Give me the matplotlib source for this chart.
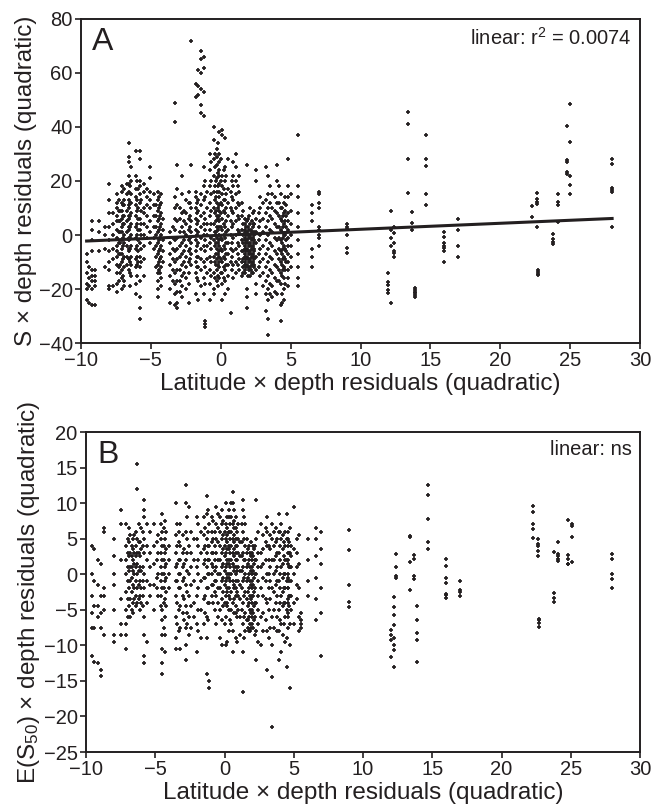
import matplotlib
matplotlib.use("Agg")
import matplotlib.pyplot as plt
import numpy as np

plt.rcParams['font.family'] = ['Liberation Sans', 'DejaVu Sans']
plt.rcParams['mathtext.default'] = 'regular'

INK = '#231f20'

# ---- Panel A: S x depth residuals, one list of y values per latitude column ----
a_col_x = [-9.6, -9.4, -9.2, -9.0, -8.7, -8.3, -8.0, -7.7, -7.4, -7.1, -6.9, -6.6, -6.4, -6.1,
           -5.8, -5.5, -5.1, -4.8, -4.5, -4.3, -4.1, -3.6, -3.3, -3.1, -2.8, -2.5, -2.3, -2.1,
           -1.8, -1.6, -1.4, -1.2, -1.1, -0.8, -0.5, -0.3, -0.1, 0.1, 0.3, 0.5, 0.7, 0.9, 1.1,
           1.3, 1.5, 1.7, 1.9, 2.1, 2.3, 2.5, 2.8, 3.2, 3.4, 3.7, 4.0, 4.3, 4.5, 4.8, 5.5, 6.5,
           7.0, 9.0, 12.0, 12.2, 12.4, 13.4, 13.7, 13.9, 14.7, 16.0, 17.0, 22.3, 22.6, 22.7,
           23.8, 24.1, 24.8, 25.0, 28.0]
a_col_y = [
    [-7, -10, -14, -18, -20, -24],
    [-12, -16, -19, -25],
    [5, 2, -2, -6, -13, -15, -17, -20, -26],
    [-13, -15, -17, -19, -26],
    [5, 1, -6],
    [3, 0, -5, -12],
    [19, 13, 8, 3, -2, -6, -10, -13, -19, -20],
    [8, 4, 0, -5, -9, -19],
    [15, 12, 10, 7, 5, 2, -1, -4, -6, -8, -11, -14, -18, -21],
    [18, 16, 12, 9, 6, 3, 1, -2, -5, -7, -10, -13, -16, -20],
    [17, 13, 11, 7, 4, 0, -3, -8, -12, -17, -19],
    [34, 29, 27, 22, 19, 13, 10, 6, 2, -2, -6, -9, -13],
    [25, 20, 15, 12, 8, 4, 0, -4, -8, -11, -15],
    [31, 22, 17, 14, 11, 7, 3, -1, -5, -9, -12, -18, -22],
    [31, 28, 20, 18, 15, 12, 6, 2, -3, -8, -12, -17, -23, -27, -31],
    [19, 16, 10, 8, 4, 0, -4, -9, -15],
    [25, 21, 16, 13, 10, 5, 1, -3],
    [15, 11, 7, 3, -1, -5],
    [16, 13, 9, 5, 1, -3, -7, -11, -14, -17, -20, -23],
    [15, 12, 8, 4, 0, -4, -8, -12, -16, -19],
    [6, 2, -2, -6, -10],
    [1, -3, -7, -11, -15, -20, -25],
    [49, 42, 14, 10, 6, 2, -2, -6, -10, -14, -18, -22, -26],
    [26, 17, 11, 5, -1, -5, -9, -13, -17, -21, -25, -27],
    [22, 15, 8, 3, -3, -7, -11, -15, -19, -23],
    [13, 8, 4, 0, -4, -8, -12, -16, -20],
    [16, 12, 6, 2, -2, -6, -10, -14, -18, -25],
    [72, 26, 10, 5, 1, -3, -7, -11],
    [56, 51, 16, 14, 10, 6, 2, -2, -6, -10, -14, -22],
    [61, 55, 52, 13, 9, 5, 1, -3, -8, -12, -17, -24],
    [68, 65, 60, 54, 48, 45, 15, 11, 7, 3, -1, -5, -9, -13, -19],
    [66, 62, 53, 44, 25, 18, 13, 8, 4, 0, -4, -10, -16, -22],
    [20, 14, 6, 2, -2, -6, -12, -18, -32, -33, -34],
    [30, 24, 18, 12, 7, 2, -3, -8, -13, -18, -24],
    [40, 35, 28, 22, 16, 10, 4, -2, -8, -14, -20, -22],
    [32, 29, 26, 21, 16, 12, 7, 3, -1, -5, -9, -13, -17],
    [38, 30, 27, 24, 19, 14, 9, 5, 0, -4, -8, -12, -16],
    [39, 37, 22, 18, 15, 11, 6, 2, -2, -6, -10, -14, -18, -24],
    [36, 25, 20, 13, 8, 3, -1, -5, -9, -13, -17, -22],
    [28, 17, 12, 7, 2, -3, -7, -11, -15, -20],
    [16, 10, 5, 0, -5, -10, -29],
    [27, 22, 18, 13, 8, 4, -1, -6, -11, -16],
    [30, 25, 20, 15, 10, 5, 0, -5, -10, -14],
    [22, 16, 11, 6, 1, -4, -9, -13],
    [12, 7, 2, -2, -6, -10, -15],
    [6, 2, -1, -4, -7, -10, -13],
    [26, 5, 1, -2, -5, -8, -11, -20, -23, -27],
    [10, 4, 0, -3, -6, -9, -12, -15],
    [8, 3, -1, -4, -7, -10, -14],
    [24, 20, 6, 1, -3, -8, -13, -18, -22],
    [14, 10, 5, 0, -5, -10, -15],
    [25, 13, 8, 3, -2, -7, -12, -17, -22, -28],
    [22, 15, 10, 5, 0, -5, -10, -15, -20, -24, -31, -37],
    [15, 10, 6, 1, -4, -9, -14, -19, -23],
    [26, 20, 12, 8, 3, -2, -7, -12, -17, -22],
    [15, 10, 6, 2, -2, -6, -10, -14, -18, -26, -32],
    [12, 8, 4, 0, -4, -8, -12, -16, -20, -24],
    [28, 18, 14, 8, 5, 2, -1, -4, -7, -10, -13, -16, -19],
    [37, 18, 14, 8, 3, -2, -7, -12, -16, -19],
    [11, 8, 5, -5, -8, -12],
    [16, 15, 12, 10, 3, 2, 0, -1, -4],
    [4.1, 3.1, 2.1, 0.0, -4.9, -6.8],
    [-14.2, -17.3, -18.5, -20.4, -21.4],
    [9.0, 1.9, -1.2, -4.2, -25.1],
    [3.1, 0.7, -3.0, -6.1, -6.6, -8.0],
    [45.4, 41.1, 28.3, 15.4],
    [8.6, 4.6, 1.9],
    [-19.8, -20.4, -21.0, -21.6, -22.2, -23.0],
    [37.2, 28.2, 25.4, 15.2, 11.1],
    [1.0, -0.9, -3.0, -4.0, -4.9, -6.1, -10.0],
    [5.9, 1.9, -4.0, -8.1],
    [10.8, 6.7],
    [15.4, 13.4, 12.2, 11.4, 3.1],
    [-12.8, -13.6, -14.5, -14.9],
    [0.2, -1.5, -2.5, -3.5],
    [15.0, 12.3, 11.1, 4.9],
    [40.2, 27.7, 26.9, 23.2, 22.5],
    [48.4, 34.4, 21.7, 18.4, 15.2],
    [28.3, 26.3, 17.3, 16.5, 15.9, 3.1],
]
# more columns inside the crowded band (x -7.5 to 5)
a_dense_x = [-7.3, -7.0, -6.7, -6.5, -6.0, -5.7, -5.3, -4.6, -4.4, -3.4, -2.9, -2.6, -2.2, -1.7,
             -1.0, -0.7, -0.4, -0.2, 0.0, 0.2, 0.4, 0.8, 1.2, 1.6, 1.8, 2.0, 2.2, 2.4, 2.7, 3.0,
             3.5, 3.9, 4.2, 4.4, 4.6, 5.0,
             1.75, 1.95, 2.15, 2.35, -0.35, -0.15, -4.35, -6.55, -5.95, -7.2, 4.45, 4.7]
a_dense_y = [
    [13, 9, 5, 1, -3, -7, -12, -17],
    [11, 7, 4, -1, -4, -9, -15],
    [19, 15, 9, 5, 1, -4, -8, -11],
    [18, 12, 7, 3, -1, -5, -10, -14, -19],
    [20, 13, 9, 4, 0, -4, -8, -11, -15],
    [13, 9, 4, 0, -5, -10],
    [17, 14, 11, 7, 3, -1],
    [11, 7, 3, 0, -4, -8, -12],
    [14, 10, 6, 2, -2, -6, -10, -13],
    [3, -1, -5, -9, -13, -17],
    [10, 6, 1, -4, -8, -13, -17, -21],
    [9, 5, 1, -2, -6, -10, -14],
    [12, 7, 3, -1, -5, -9],
    [12, 8, 4, 0, -4, -8, -12, -16],
    [16, 10, 4, 0, -4, -9, -14],
    [27, 20, 15, 9, 4, -1, -5, -10, -15],
    [30, 25, 18, 13, 8, 1, -4, -10, -16],
    [34, 23, 18, 10, 6, 2, -3, -7, -11, -15, -19],
    [28, 20, 12, 8, 3, -1, -5, -9, -14],
    [24, 17, 13, 9, 4, 0, -4, -8, -12, -16],
    [22, 15, 10, 5, 1, -3, -7, -11],
    [20, 14, 9, 3, -3, -8, -13],
    [18, 12, 7, 2, -3, -7, -11],
    [9, 4, 0, -3, -6, -9, -12, -14],
    [3, 0, -3, -6, -9, -12],
    [7, 2, -1, -4, -7, -10, -13],
    [5, 1, -2, -5, -8, -11, -14],
    [9, 4, 0, -3, -6, -9, -12],
    [8, 3, -2, -7, -12],
    [12, 6, 1, -4, -9, -14, -19],
    [18, 12, 7, 2, -3, -8, -13, -18, -22],
    [14, 9, 4, -1, -6, -11, -16, -21],
    [18, 12, 7, 3, -1, -5, -9, -13, -17],
    [10, 5, 1, -3, -7, -11, -15, -22, -25],
    [14, 9, 5, 0, -5, -9, -13, -18],
    [15, 9, 4, 0, -4, -8, -12],
    [4, 1, -2, -5, -8, -11, -14],
    [6, 3, 0, -3, -6, -9, -12, -15],
    [2, -1, -4, -7, -10, -13],
    [4, 1, -2, -5, -8, -11],
    [20, 14, 9, 5, 1, -3, -7, -11],
    [22, 16, 11, 7, 3, -2, -6, -10],
    [11, 7, 3, -1, -5, -9, -14],
    [16, 11, 7, 3, -1, -5, -9],
    [17, 10, 6, 2, -2, -6, -10],
    [9, 5, 1, -3, -7, -11, -14],
    [7, 3, -1, -5, -9, -13],
    [11, 7, 3, -2, -6, -10],
]
a_fit = [0.222, -0.1]  # slope, intercept of the linear fit

# ---- Panel B: E(S50) x depth residuals ----
b_col_x = [-9.6, -9.4, -9.1, -8.9, -8.7, -8.0, -7.5, -7.1, -6.8, -6.6, -6.3, -6.1, -5.8, -5.6,
           -5.1, -4.8, -4.5, -4.3, -3.5, -3.2, -2.8, -2.6, -2.0, -1.7, -1.3, -1.1, -0.6, -0.3,
           0.1, 0.3, 0.6, 0.9, 1.3, 1.5, 1.8, 2.0, 2.3, 2.6, 3.1, 3.4, 3.9, 4.1, 4.5, 4.7, 5.0,
           5.4, 6.0, 6.6, 7.0, 9.0, 12.0, 12.2, 12.4, 13.4, 13.7, 13.9, 14.7, 16.0, 17.0, 22.3,
           22.6, 22.7, 23.8, 24.1, 24.8, 25.1, 28.0]
b_col_y = [
    [4, 0, -3, -5.5, -7.5, -11.5],
    [3.5, -1, -4.5, -7.5, -12.3],
    [2, -1.5, -4.5, -6, -12.5],
    [1.5, -3, -5.5, -7.5, -13.5, -14.3],
    [6.5, 6, -2, -3, -5, -8.5],
    [5, 2.5, 0, -1.5, -5, -8.5, -9.5],
    [9, 7, 2, -3.5, -7, -8.5],
    [7, 4, 2, 0, -2.5, -5, -7, -8.5, -10.5],
    [5.5, 3, 1, -1, -3.5, -6],
    [5, 3.5, 2, 0.5, -1.5, -4, -5.5],
    [15.5, 12, 5, 3, 1.5, 0, -2, -4],
    [4.5, 2.5, 1, -1, -3, -5],
    [10.5, 9, 8, 5, 3, 0, -2, -6, -8.5, -11.5, -12.5],
    [7, 4, 2, -1, -4, -9.5],
    [7, 4, 1.5, -1.5, -5],
    [5.5, 3, 0, -3],
    [8.5, 6, 4, 2, 0, -2, -5, -6.5, -8.5, -10.5, -12.5, -14],
    [7.5, 5, 3, 1, -1, -3.5, -6, -8.5, -11],
    [10, 5.5, 3, 1, -1, -3, -6, -9, -10.5],
    [7, 4, 2, 0, -2, -4.5, -7.5, -10.5],
    [12.5, 10, 6, 2, -1.5, -4.5, -7.5, -10, -12],
    [9.5, 4, 0, -3, -6, -8.5],
    [8, 5, 1, -3, -7, -11],
    [6, 3, -1, -5, -9],
    [11, 8.5, 5, 3, 1, -2, -6, -9, -14],
    [7, 4, 2, 0, -4, -15, -16],
    [9.5, 7, 5, 3, 1, -1, -3, -7],
    [8, 6, 4, 2, 0, -2, -5, -9],
    [10, 7, 5, 3, 1, -1, -3, -6, -10],
    [9, 6, 4, 2, 0, -2, -5, -8],
    [11.5, 10, 7, 5, 3, 1.5, -1, -4, -8, -11],
    [6, 4, 2, 0.5, -2.5, -6, -9.5],
    [10.5, 9, 6, 3, 1, -1, -4, -7, -11, -16.5],
    [7, 4, 2, 0, -2.5, -5.5, -8],
    [4, 2, 0, -2, -4, -6, -8],
    [3, 1, -1, -3, -5, -7],
    [10.5, 5, 2, 0, -4, -8, -12],
    [7, 3, 1, -2, -6, -10],
    [8, 6, 4, 0, -4, -8, -13.5],
    [7, 5, 2, -2, -6, -10, -14.5, -21.5],
    [8.5, 6, 3, -1, -5, -8, -12],
    [7, 5, 1, -3, -7, -11],
    [8.5, 5, 2, -1, -5, -9, -13],
    [6.5, 3, 1, -3, -7, -10, -16],
    [9.5, 3.5, 0, -4, -7],
    [5.5, 1.5, -2, -6, -8],
    [5, 2, -1, -3],
    [6.5, 5, 2.5, -0.5, -3.5, -6.5],
    [6, 3.5, 1.5, -2, -5.5, -11.5],
    [6.2, 3.4, -1.5, -3.9, -4.6],
    [-7.9, -8.6, -9.3, -11.7],
    [-3.2, -4.6, -5.8, -7.2, -8.9, -10.0, -10.7, -13.0],
    [2.8, 1.0, -0.2, -0.5],
    [5.4, 5.2, 1.7, -2.2],
    [2.7, 2.2, -0.3, -0.6],
    [-4.4, -6.5, -8.2, -9.3, -12.4],
    [12.5, 11.2, 7.8, 4.5, 3.6],
    [2.2, 1.1, -0.5, -1.3, -2.8, -2.9, -3.4],
    [-0.9, -2.2, -2.5, -3.0],
    [9.6, 8.8, 7.0, 6.3, 5.1],
    [5.0, 4.3, 4.0, 3.2, 2.6],
    [-6.3, -6.5, -6.8, -7.4],
    [3.1, -2.6, -3.3, -3.9],
    [4.6, 2.8, 2.5, 2.1, 1.8],
    [7.6, 2.7, 2.2, 1.5, 1.4],
    [7.1, 6.8, 5.3, 1.7],
    [2.9, 2.1, 0.0, -0.7, -1.9],
]
b_dense_x = [-7.0, -6.9, -6.7, -6.4, -6.2, -5.9, -5.4, -4.9, -4.6, -4.4, -4.2, -3.3, -3.0, -2.7,
             -2.4, -2.2, -1.9, -1.5, -1.2, -0.9, -0.8, -0.5, -0.2, 0.0, 0.2, 0.4, 0.5, 0.7, 0.8,
             1.0, 1.1, 1.4, 1.6, 1.7, 1.9, 2.1, 2.2, 2.4, 2.8, 3.0, 3.3, 3.6, 3.8, 4.0, 4.2, 4.3,
             4.4, 4.6, 4.8, 5.2, 5.5,
             -0.1, 0.15, 0.35, 0.65, 0.85, 1.25, 1.85, 1.95, 2.05, -1.4, -0.7, -2.9, -3.4, -4.0,
             -6.5, -6.0, 3.2, 3.7, 4.55, 4.65]
b_dense_y = [
    [5, 3, 1, -1, -3.5, -6],
    [6.5, 4.5, 2.5, 0.5, -2, -4.5],
    [4, 2.5, 1, -0.5, -2.5, -5],
    [6, 4, 2.5, 1, -1, -3, -4.5],
    [7, 4.5, 3, 0.5, -1.5, -3.5],
    [6, 4, 1, -1, -3, -4.5],
    [6, 3, 1, -1.5, -3],
    [4.5, 2, -0.5, -2],
    [7, 5, 3, 1, -1, -3, -4.5],
    [6.5, 4, 2, 0, -2, -4, -7.5],
    [6, 3.5, 1.5, -0.5, -2.5, -4.5],
    [6, 4.5, 2, 0, -2, -5, -8],
    [5.5, 3, 1, -1, -3, -5.5],
    [8, 5, 3, 0.5, -2.5, -5.5, -7],
    [6, 3, 1, -1.5, -4.5, -7.5],
    [5, 2, -1, -4, -6],
    [7, 4, 2, 0, -2, -5, -8],
    [8, 5.5, 3.5, 1.5, -0.5, -3.5, -7],
    [9, 6, 4, 2, 0, -2, -4, -6.5],
    [8, 6, 4.5, 3, 1.5, 0, -1.5, -3],
    [7.5, 5, 3, 1, -1.5, -4],
    [8.5, 6.5, 4.5, 2, 0, -2, -4, -6],
    [9, 7, 5, 3, 1, -1, -3.5, -6.5, -10],
    [6, 4, 2.5, 0.5, -1.5, -4, -7],
    [8, 5.5, 3.5, 1.5, -0.5, -2.5, -4.5, -9.5],
    [7, 5, 3, 1, -1, -3.5, -6.5],
    [10, 8, 6, 4, 2, 0, -2.5, -5, -7],
    [9, 6.5, 4.5, 2.5, 0.5, -1.5, -3.5],
    [8, 5, 3, 1, -1, -3, -5.5, -9],
    [7, 5, 3, 1, -1, -3, -5],
    [4.5, 2.5, 0.5, -1.5, -3.5, -6, -8.5],
    [8, 5, 2, -0.5, -3, -6, -9],
    [5, 3, 1, -1, -3.5, -6.5],
    [3.5, 1.5, -0.5, -2.5, -4.5, -6.5, -7.5],
    [4.5, 2.5, 0.5, -1.5, -3.5, -5.5, -7.5],
    [3.5, 1.5, -0.5, -2.5, -4.5, -6.5],
    [4, 2, 0, -2, -4, -6, -8.5],
    [6, 3, 1, -1, -3, -5, -7, -9.5],
    [5.5, 3.5, 1.5, -0.5, -3, -5.5, -8],
    [6.5, 4.5, 2, -1, -3.5, -6.5],
    [5.5, 3.5, 1, -1, -3.5, -7.5],
    [6, 4, 2, 0, -2.5, -5, -7.5],
    [5, 3, 1, -1, -3, -6, -8],
    [6, 4, 2, 0, -2, -4, -6.5],
    [5.5, 3.5, 1.5, -0.5, -2.5, -4.5, -8.5],
    [4.5, 2.5, 0, -2, -4, -7],
    [6, 4, 2, 0, -2, -4, -6, -9.5],
    [5, 3, 1.5, -0.5, -2, -3.5, -5.5],
    [4, 2.5, 1, -1, -3, -5],
    [5, 3, 1, -1.5, -3.5],
    [-5.5, -6.5, -7, -7.5],
    [7.5, 5.5, 3.5, 1.5, -0.5, -2.5, -4.5],
    [6.5, 4.5, 2, 0, -2, -4],
    [8, 6, 3.5, 1.5, -0.5, -3],
    [7.5, 5.5, 3.5, 1, -2, -5.5],
    [6.5, 4, 2, 0, -2, -4.5],
    [7, 4.5, 2.5, 0.5, -2, -5],
    [3, 1, -1, -3, -5, -7, -8],
    [2, 0, -2, -4, -6],
    [4, 2.5, 0.5, -1.5, -3, -5.5, -7.5],
    [6.5, 4, 2, -0.5, -3, -5.5],
    [6, 4, 2, 0.5, -1, -2.5, -5],
    [3.5, 1.5, -0.5, -3.5, -6.5],
    [7, 4, 1.5, -1, -4, -7],
    [4, 2, 0, -2],
    [5.5, 3, 1.5, 0, -2, -3.5],
    [6.5, 3.5, 0.5, -2, -4],
    [4, 2, 0, -2, -5, -9],
    [6.5, 4.5, 2.5, 0.5, -1.5, -4],
    [6, 4, 2, 0, -2, -4, -6, -7.5],
    [4.5, 3, 1, -1, -3, -4.5],
]


def flatten(col_x, col_y):
    xs, ys = [], []
    for x, col in zip(col_x, col_y):
        xs += [x] * len(col)
        ys += col
    return np.array(xs), np.array(ys)


def style_axes(ax):
    for s in ax.spines.values():
        s.set_linewidth(1.4)
        s.set_color(INK)
    ax.tick_params(axis='both', which='both', direction='out', length=4, width=1.2,
                   colors=INK, labelsize=14.5, pad=2, top=False, right=False)
    ax.set_xlim(-10, 30)
    ax.set_xticks(np.arange(-10, 31, 5))


fig = plt.figure(figsize=(6.55, 8.11), dpi=100)
axA = fig.add_axes([0.1237, 0.577, 0.8535, 0.3997])
axB = fig.add_axes([0.1313, 0.0727, 0.8459, 0.3946])

label_kw = dict(fontsize=17.5, color=INK)
mark_kw = dict(linestyle='none', marker='+', markersize=3.4, mew=1.25, color=INK)

# Panel A
ax_x, ax_y = flatten(a_col_x + a_dense_x, a_col_y + a_dense_y)
axA.plot(ax_x, ax_y, **mark_kw)
fx = np.array([ax_x.min(), ax_x.max()])
axA.plot(fx, a_fit[0] * fx + a_fit[1], color=INK, lw=2.2)
style_axes(axA)
axA.set_ylim(-40, 80)
axA.set_yticks(np.arange(-40, 81, 20))
axA.set_xlabel('Latitude × depth residuals (quadratic)', labelpad=2, **label_kw)
axA.set_ylabel('S × depth residuals (quadratic)', labelpad=1, **label_kw)
axA.text(0.02, 0.975, 'A', transform=axA.transAxes, fontsize=23, va='top', ha='left', color=INK)
axA.text(0.985, 0.975, 'linear: r$^2$ = 0.0074', transform=axA.transAxes, fontsize=14.5,
         va='top', ha='right', color=INK)

# Panel B
bx, by = flatten(b_col_x + b_dense_x, b_col_y + b_dense_y)
axB.plot(bx, by, **mark_kw)
style_axes(axB)
axB.set_ylim(-25, 20)
axB.set_yticks(np.arange(-25, 21, 5))
axB.set_xlabel('Latitude × depth residuals (quadratic)', labelpad=2, **label_kw)
axB.set_ylabel('E(S$_{50}$) × depth residuals (quadratic)', labelpad=1, **label_kw)
axB.text(0.02, 0.975, 'B', transform=axB.transAxes, fontsize=23, va='top', ha='left', color=INK)
axB.text(0.985, 0.975, 'linear: ns', transform=axB.transAxes, fontsize=14.5,
         va='top', ha='right', color=INK)

fig.savefig('out.png', dpi=100)
